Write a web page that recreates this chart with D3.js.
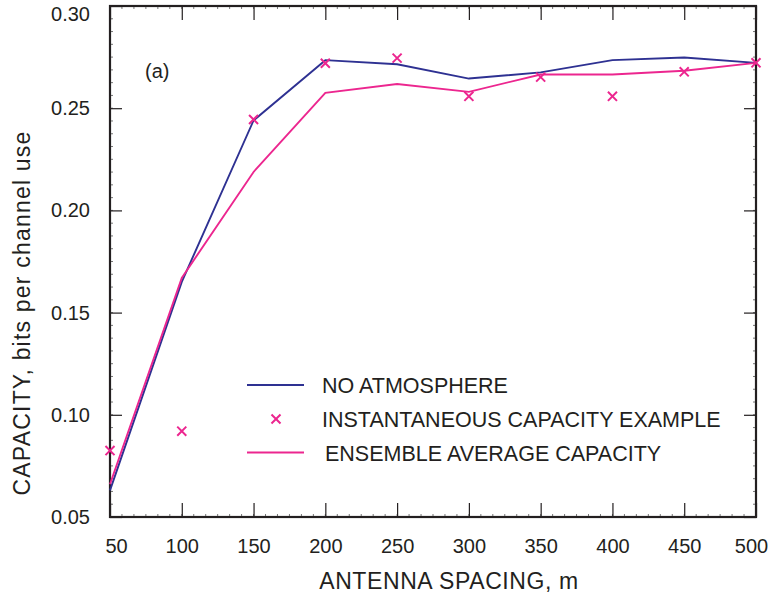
<!DOCTYPE html>
<html>
<head>
<meta charset="utf-8">
<script src="https://cdn.jsdelivr.net/npm/d3@7"></script>
<style>
  body { margin: 0; background: #fff; }
  text { font-family: "Liberation Sans", Arial, sans-serif; fill: #231f20; }
</style>
</head>
<body>
<div id="chart"></div>
<script>
// antenna spacing, m
const spacing = [50, 100, 150, 200, 250, 300, 350, 400, 450, 500];
// capacity, bits per channel use
const noAtmosphere = [0.063, 0.165, 0.244, 0.2735, 0.2715, 0.2645, 0.2675, 0.2735, 0.2748, 0.2722];
const instantaneous = [0.0825, 0.092, 0.2445, 0.272, 0.2745, 0.2558, 0.2652, 0.2558, 0.2678, 0.2722];
const ensembleAvg = [0.066, 0.167, 0.2188, 0.2575, 0.2618, 0.258, 0.2665, 0.2665, 0.2683, 0.2722];

const xTicks = [50, 100, 150, 200, 250, 300, 350, 400, 450, 500];
const yTicks = [0.05, 0.10, 0.15, 0.20, 0.25, 0.30];

const legendItems = ["NO ATMOSPHERE", "INSTANTANEOUS CAPACITY EXAMPLE", "ENSEMBLE AVERAGE CAPACITY"];

const blue = "#2e3192", pink = "#ec268f", ink = "#231f20";

let margin = {top: 6, right: 14, bottom: 85, left: 110},
    width = 770 - margin.left - margin.right,
    height = 602 - margin.top - margin.bottom;

let svg = d3.select("#chart").append("svg")
    .attr("width", 770)
    .attr("height", 602);

let g = svg.append("g")
    .attr("transform", `translate(${margin.left},${margin.top})`);

let x = d3.scaleLinear().domain([50, 500]).range([0, width]);
let y = d3.scaleLinear().domain([0.05, 0.30]).range([height, 0]);

// minor ticks on all four sides
let xMinor = d3.range(50, 500.01, 50 / 6);
let yMinor = d3.range(0.05, 0.3001, 0.05 / 8);

g.append("g").selectAll("line")
  .data(xMinor).join("line")
  .attr("x1", d => x(d)).attr("x2", d => x(d))
  .attr("y1", height).attr("y2", height - 3)
  .attr("stroke", "#777").attr("stroke-width", 1);
g.append("g").selectAll("line")
  .data(xMinor).join("line")
  .attr("x1", d => x(d)).attr("x2", d => x(d))
  .attr("y1", 0).attr("y2", 3)
  .attr("stroke", "#777").attr("stroke-width", 1);
g.append("g").selectAll("line")
  .data(yMinor).join("line")
  .attr("x1", 0).attr("x2", 3)
  .attr("y1", d => y(d)).attr("y2", d => y(d))
  .attr("stroke", "#777").attr("stroke-width", 1);
g.append("g").selectAll("line")
  .data(yMinor).join("line")
  .attr("x1", width).attr("x2", width - 3)
  .attr("y1", d => y(d)).attr("y2", d => y(d))
  .attr("stroke", "#777").attr("stroke-width", 1);

// major ticks (inward) with labels
let xAxis = d3.axisBottom(x).tickValues(xTicks).tickSize(-14).tickPadding(22).tickFormat(d3.format("d"));
let xAxisG = g.append("g").attr("transform", `translate(0,${height})`).call(xAxis);
let xAxisTop = g.append("g").call(d3.axisTop(x).tickValues(xTicks).tickSize(-14).tickFormat(""));
let yAxis = d3.axisLeft(y).tickValues(yTicks).tickSize(-12).tickPadding(20).tickFormat(d3.format(".2f"));
let yAxisG = g.append("g").call(yAxis);
let yAxisRight = g.append("g").attr("transform", `translate(${width},0)`)
    .call(d3.axisRight(y).tickValues(yTicks).tickSize(-12).tickFormat(""));

[xAxisG, xAxisTop, yAxisG, yAxisRight].forEach(a => {
  a.select(".domain").remove();
  a.selectAll(".tick line").attr("stroke", ink).attr("stroke-width", 1.2);
  a.selectAll("text").attr("font-size", 20).attr("fill", ink)
    .style("font-family", '"Liberation Sans", Arial, sans-serif');
});

// nudge end labels so they stay inside the page, as in the original
yAxisG.selectAll(".tick text").filter(d => d === 0.30).attr("dy", "0.72em");
xAxisG.selectAll(".tick text").filter(d => d === 50).attr("dx", 6);
xAxisG.selectAll(".tick text").filter(d => d === 500).attr("dx", -5);

// frame
g.append("rect")
  .attr("width", width).attr("height", height)
  .attr("fill", "none").attr("stroke", ink).attr("stroke-width", 2.2);

// axis titles
svg.append("text")
  .attr("x", 449).attr("y", 589)
  .attr("text-anchor", "middle").attr("font-size", 23)
  .attr("letter-spacing", 0.6)
  .text("ANTENNA SPACING, m");
svg.append("text")
  .attr("transform", "translate(30,313) rotate(-90)")
  .attr("text-anchor", "middle").attr("font-size", 23)
  .attr("letter-spacing", 1.2)
  .text("CAPACITY, bits per channel use");

g.append("text")
  .attr("x", 35).attr("y", 71.5).attr("font-size", 20)
  .text("(a)");

// lines
let line = d3.line().x((d, i) => x(spacing[i])).y(d => y(d));

g.append("path").datum(noAtmosphere)
  .attr("d", line).attr("fill", "none")
  .attr("stroke", blue).attr("stroke-width", 1.9);
g.append("path").datum(ensembleAvg)
  .attr("d", line).attr("fill", "none")
  .attr("stroke", pink).attr("stroke-width", 1.9);

// crosses
let cross = d3.symbol().type(d3.symbolX).size(55);
g.append("g").selectAll("path")
  .data(instantaneous).join("path")
  .attr("transform", (d, i) => `translate(${x(spacing[i])},${y(d)})`)
  .attr("d", cross)
  .attr("fill", "none").attr("stroke", pink).attr("stroke-width", 2);

// legend
let leg = svg.append("g");
leg.append("line").attr("x1", 247).attr("x2", 304).attr("y1", 385).attr("y2", 385)
  .attr("stroke", blue).attr("stroke-width", 1.9);
leg.append("path").attr("transform", "translate(276,419)").attr("d", cross)
  .attr("fill", "none").attr("stroke", pink).attr("stroke-width", 2);
leg.append("line").attr("x1", 247).attr("x2", 304).attr("y1", 452.5).attr("y2", 452.5)
  .attr("stroke", pink).attr("stroke-width", 1.9);
leg.selectAll("text")
  .data(legendItems).join("text")
  .attr("x", (d, i) => i === 2 ? 325 : 322)
  .attr("y", (d, i) => 392.5 + i * 34)
  .attr("font-size", 21.5)
  .text(d => d);
</script>
</body>
</html>
